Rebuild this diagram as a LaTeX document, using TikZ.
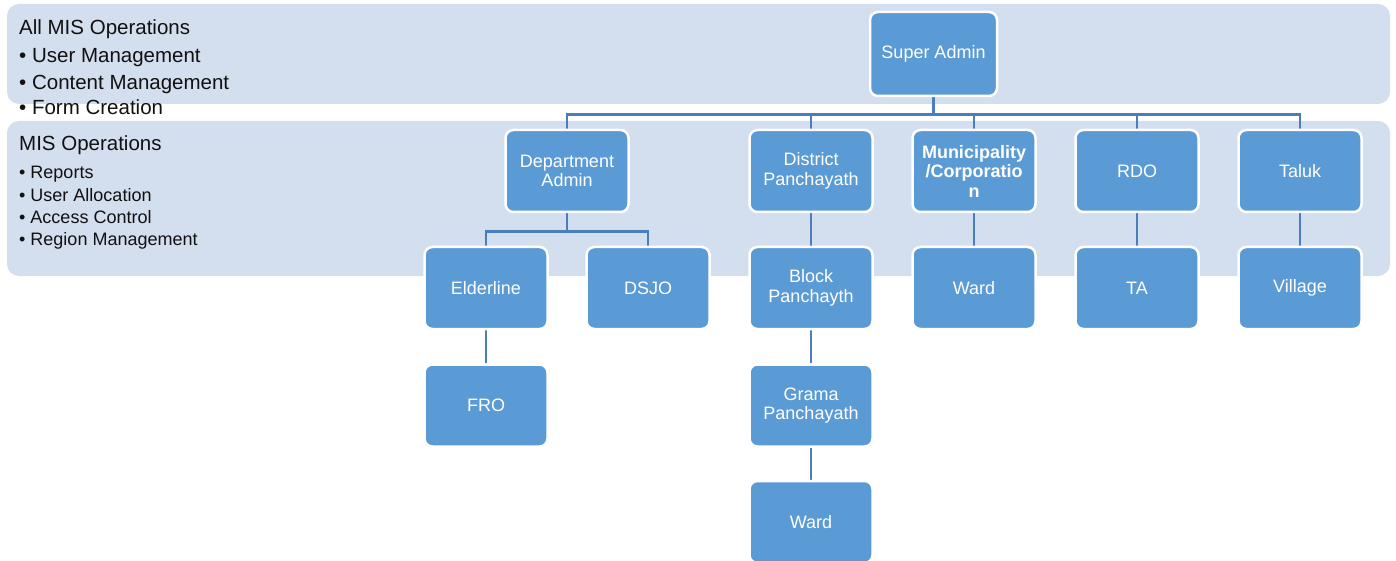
\documentclass[tikz,border=0pt]{standalone}
\usepackage{fontspec}
\setmainfont{Liberation Sans}
\usetikzlibrary{calc}
\pgfdeclarelayer{bg}
\pgfdeclarelayer{mid}
\pgfsetlayers{bg,mid,main}
\definecolor{bandcol}{HTML}{D3DEEF}
\definecolor{boxfill}{HTML}{5B9BD5}
\definecolor{conncol}{HTML}{4A7EBB}
\definecolor{txtcol}{HTML}{111111}
\begin{document}
\begin{tikzpicture}[x=1pt,y=-1pt,
  orgbox/.style={draw=white, line width=2.5pt, fill=boxfill, rounded corners=8pt,
    minimum width=123pt, minimum height=82pt, text=white, align=center, inner sep=2pt,
    font=\fontsize{18}{19.5}\selectfont},
  link/.style={draw=conncol, line width=2.8pt},
  bandfill/.style={fill=bandcol, rounded corners=12pt},
  headtxt/.style={anchor=base west, inner sep=0pt, text=txtcol, font=\fontsize{20.5}{24}\selectfont},
  bigitem/.style={anchor=base west, inner sep=0pt, text=txtcol, font=\fontsize{20.5}{24}\selectfont},
  smallitem/.style={anchor=base west, inner sep=0pt, text=txtcol, font=\fontsize{18}{21}\selectfont}]
\useasboundingbox (0,0) rectangle (1396,561);

\begin{pgfonlayer}{bg}
  \fill[bandfill] (7,4) rectangle (1390,104);
  \fill[bandfill] (7,121) rectangle (1390,276);
\end{pgfonlayer}

% left texts
\node[headtxt] (h1) at (19,35) {All MIS Operations};
\node[bigitem] (u1) at (19,63) {• User Management};
\node[bigitem] (u2) at (19,90) {• Content Management};
\node[bigitem] (u3) at (19,115) {• Form Creation};
\node[headtxt] (h2) at (19,151) {MIS Operations};
\node[smallitem] (r1) at (19,179) {• Reports};
\node[smallitem] (r2) at (19,202) {• User Allocation};
\node[smallitem] (r3) at (19,224) {• Access Control};
\node[smallitem] (r4) at (19,246) {• Region Management};

% boxes
\node[orgbox, minimum width=127pt, minimum height=84pt] (sa) at (933.5,54) {Super Admin};
\node[orgbox] (dept) at (567,171) {Department\\Admin};
\node[orgbox] (dist) at (811,171) {District\\Panchayath};
\node[orgbox, font=\fontsize{18}{19.5}\selectfont\bfseries] (muni) at (974,171) {Municipality\\/Corporatio\\n};
\node[orgbox] (rdo) at (1137,171) {RDO};
\node[orgbox] (taluk) at (1300,171) {Taluk};

\node[orgbox] (elder) at (486,288) {Elderline};
\node[orgbox] (dsjo) at (648,288) {DSJO};
\node[orgbox] (block) at (811,288) {Block\\Panchayth};
\node[orgbox] (ward1) at (974,288) {Ward};
\node[orgbox] (ta) at (1137,288) {TA};
\node[orgbox] (village) at (1300,288) {Village};

\node[orgbox] (fro) at (486,405.5) {FRO};
\node[orgbox] (grama) at (811,405.5) {Grama\\Panchayath};
\node[orgbox] (ward2) at (811,522) {Ward};

% connectors
\begin{pgfonlayer}{mid}
  \foreach \c in {dept,dist,muni,rdo,taluk}
    \draw[link] (sa.south) -- ++(0,17) -| (\c.north);
  \foreach \c in {elder,dsjo}
    \draw[link] (dept.south) -- ++(0,18) -| (\c.north);
  \draw[link] (elder.south) -- (fro.north);
  \draw[link] (dist.south) -- (block.north);
  \draw[link] (block.south) -- (grama.north);
  \draw[link] (grama.south) -- (ward2.north);
  \draw[link] (muni.south) -- (ward1.north);
  \draw[link] (rdo.south) -- (ta.north);
  \draw[link] (taluk.south) -- (village.north);
\end{pgfonlayer}
\end{tikzpicture}
\end{document}
